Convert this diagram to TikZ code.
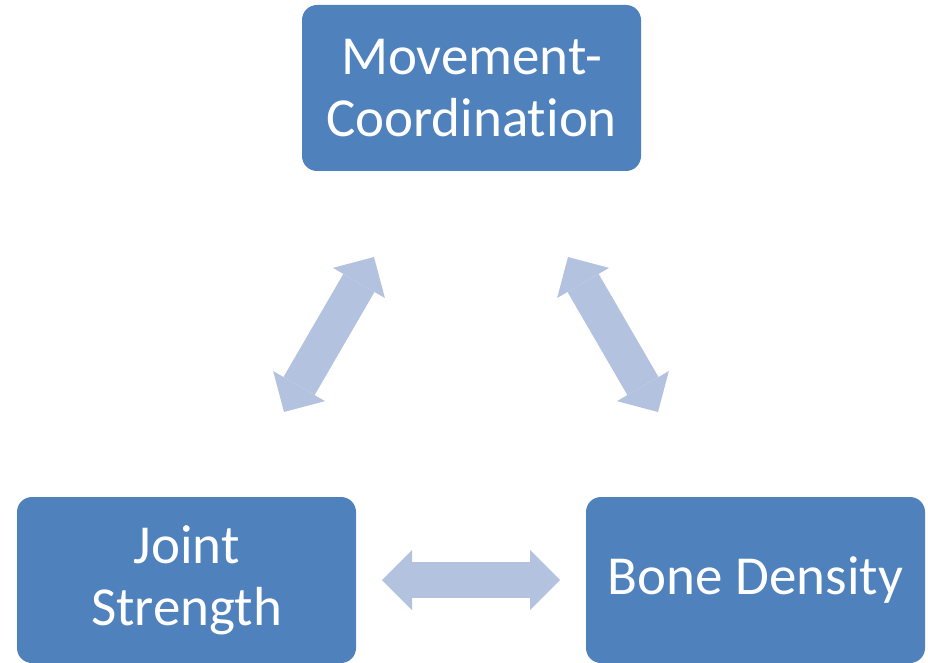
\documentclass[tikz,border=0pt]{standalone}
\usepackage{fontspec}
\setmainfont{Carlito}[Ligatures=NoCommon]
\usetikzlibrary{arrows.meta}
\definecolor{boxblue}{HTML}{4F81BD}
\definecolor{arrowblue}{HTML}{B3C3DF}
\tikzset{
	topic/.style={rectangle, rounded corners=15pt, fill=boxblue, text=white, align=center,
		minimum width=339pt, minimum height=166pt, inner sep=0pt, font=\fontsize{55}{62}\selectfont},
	link/.style={draw=arrowblue, line width=36pt,
		{Triangle[width=60pt,length=30pt,line width=0pt]}-{Triangle[width=60pt,length=30pt,line width=0pt]}}
}
\begin{document}
\begin{tikzpicture}[x=1pt,y=-1pt]
		\useasboundingbox (0,0) rectangle (928,663);
		\node [topic] (move) at (471.5,88) {Movement-\\Coordination};
		\node [topic] (joint) at (186.5,580) {Joint\\Strength};
		\node [topic] (bone) at (755.5,580) {Bone Density};
		\coordinate (JM) at (284,412);
		\coordinate (MJ) at (374,257);
		\coordinate (MB) at (568,257);
		\coordinate (BM) at (658,412);
		\coordinate (JB) at (382,580);
		\coordinate (BJ) at (560,580);
		\draw [link] (JM) -- (MJ);
		\draw [link] (MB) -- (BM);
		\draw [link] (JB) -- (BJ);
	\end{tikzpicture}
\end{document}
